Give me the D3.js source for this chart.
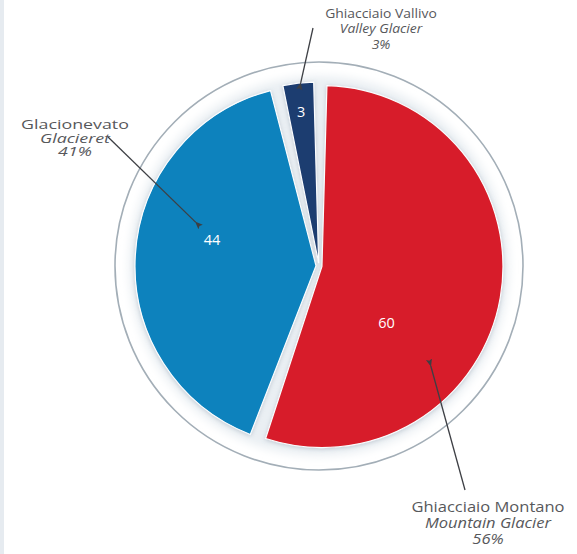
<!DOCTYPE html>
<html>
<head>
<meta charset="utf-8">
<script src="https://cdn.jsdelivr.net/npm/d3@7"></script>
<style>
  html, body { margin: 0; padding: 0; background: #fff; }
  svg { display: block; font-family: "Open Sans", sans-serif; }
</style>
</head>
<body>
<div id="svg-container"></div>
<script>
////////////////////////////////////////////////////////////////////
////////////////////////////  Data  ////////////////////////////////
const names = ["Ghiacciaio Montano", "Glacionevato", "Ghiacciaio Vallivo"];
const namesEn = ["Mountain Glacier", "Glacieret", "Valley Glacier"];
const counts = [60, 44, 3];
const percents = ["56%", "41%", "3%"];
const colors = ["#d71f29", "#0a82bd", "#1f3d70"];

////////////////////////////////////////////////////////////////////
////////////////////////////  Init  ////////////////////////////////
const width = 577, height = 554;
const cx = 319, cy = 266;
const radius = 181;
const ringRadius = 204;

// label / callout placement (style only)
const labelStyle = [
  { at: 0.65, r: 88,  lineAt: 0.66, lineR: 150, end: [465, 490], text: [488, 512], size: 14.5, sx: 1.14, lh: 16 },
  { at: 0.57, r: 110, lineAt: 0.61, lineR: 131, end: [108, 137], text: [75, 129],  size: 13.5, sx: 1.32, lh: 13.6 },
  { at: 0.49, r: 156, lineAt: 0.56, lineR: 184, end: [313, 28],  text: [381, 18],  size: 13.5, sx: 1.03, lh: 15.5 },
];

const svg = d3.select("#svg-container").append("svg")
  .attr("width", width)
  .attr("height", height);

const defs = svg.append("defs");

defs.append("filter").attr("id", "halo")
  .attr("x", "-20%").attr("y", "-20%").attr("width", "140%").attr("height", "140%")
  .append("feGaussianBlur").attr("stdDeviation", 4);

defs.append("filter").attr("id", "shadow")
  .attr("x", "-20%").attr("y", "-20%").attr("width", "140%").attr("height", "140%")
  .append("feDropShadow")
  .attr("dx", 0).attr("dy", 1)
  .attr("stdDeviation", 2)
  .attr("flood-color", "#8d9cab")
  .attr("flood-opacity", 0.45);

defs.append("marker").attr("id", "arrow")
  .attr("viewBox", "0 0 10 10")
  .attr("refX", 1).attr("refY", 5)
  .attr("markerWidth", 6).attr("markerHeight", 6)
  .attr("orient", "auto-start-reverse")
  .append("path")
  .attr("d", "M0,5 L10,1 L8,5 L10,9 Z")
  .attr("fill", "#3d3f44");

// left edge strip
svg.append("rect")
  .attr("x", 0).attr("y", 0)
  .attr("width", 4).attr("height", height)
  .attr("fill", "#e6ebf0");

const g = svg.append("g").attr("transform", `translate(${cx}, ${cy})`);

// soft halo + outer ring
g.append("circle")
  .attr("r", radius + 9)
  .attr("fill", "#eaeff3")
  .attr("filter", "url(#halo)");

g.append("circle")
  .attr("r", ringRadius)
  .attr("fill", "none")
  .attr("stroke", "#a3aeb7")
  .attr("stroke-width", 1.6);

////////////////////////////////////////////////////////////////////
////////////////////////////  Pie  /////////////////////////////////
const pie = d3.pie().sort(null).value((d) => d).padAngle(0.055);
const arcs = pie(counts);

const arc = d3.arc().innerRadius(0).outerRadius(radius);

const polar = (angle, r) => [r * Math.sin(angle), -r * Math.cos(angle)];
const angleAt = (a, f) => a.startAngle + f * (a.endAngle - a.startAngle);

const explode = 3;
g.selectAll(".slice")
  .data(arcs)
  .enter()
  .append("path")
  .attr("class", "slice")
  .attr("transform", (d) => {
    const m = (d.startAngle + d.endAngle) / 2;
    const [x, y] = polar(m, explode);
    return `translate(${x}, ${y})`;
  })
  .attr("d", arc)
  .attr("fill", (d, i) => colors[i])
  .attr("stroke", "#fbfdff")
  .attr("stroke-width", 1.2)
  .attr("filter", "url(#shadow)");

// values inside slices
g.selectAll(".value")
  .data(arcs)
  .enter()
  .append("text")
  .attr("class", "value")
  .attr("x", (d, i) => polar(angleAt(d, labelStyle[i].at), labelStyle[i].r)[0])
  .attr("y", (d, i) => polar(angleAt(d, labelStyle[i].at), labelStyle[i].r)[1])
  .attr("text-anchor", "middle")
  .attr("dominant-baseline", "central")
  .attr("fill", "#ffffff")
  .attr("font-size", 14.5)
  .text((d) => d.data);

////////////////////////////////////////////////////////////////////
////////////////////////////  Callouts  ////////////////////////////
svg.selectAll(".leader")
  .data(arcs)
  .enter()
  .append("line")
  .attr("class", "leader")
  .attr("x1", (d, i) => cx + polar(angleAt(d, labelStyle[i].lineAt), labelStyle[i].lineR)[0])
  .attr("y1", (d, i) => cy + polar(angleAt(d, labelStyle[i].lineAt), labelStyle[i].lineR)[1])
  .attr("x2", (d, i) => labelStyle[i].end[0])
  .attr("y2", (d, i) => labelStyle[i].end[1])
  .attr("stroke", "#3d3f44")
  .attr("stroke-width", 1.3)
  .attr("marker-start", "url(#arrow)");

const callouts = svg.selectAll(".callout")
  .data(names)
  .enter()
  .append("g")
  .attr("class", "callout")
  .attr("transform", (d, i) => {
    const s = labelStyle[i];
    return `translate(${s.text[0]}, ${s.text[1]}) scale(${s.sx}, 1)`;
  })
  .attr("fill", "#57585b")
  .attr("text-anchor", "middle");

callouts.each(function (d, i) {
  const s = labelStyle[i];
  const grp = d3.select(this).attr("font-size", s.size);
  grp.append("text").attr("y", 0).text(d);
  grp.append("text").attr("y", s.lh).attr("font-style", "italic").text(namesEn[i]);
  grp.append("text").attr("y", s.lh * 2).attr("font-style", "italic").text(percents[i]);
});
</script>
</body>
</html>
